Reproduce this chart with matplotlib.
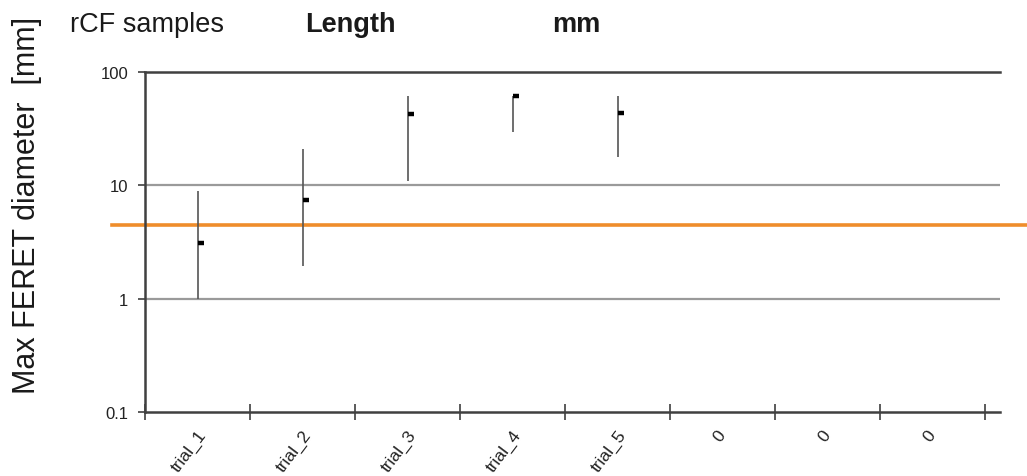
"""rCF samples: max FERET diameter per trial (high-low-close style, log axis)."""
import matplotlib; matplotlib.use("Agg")
import matplotlib.pyplot as plt
import matplotlib.transforms as mtrans
from matplotlib.markers import TICKRIGHT
from matplotlib.ticker import FixedLocator, NullFormatter, FixedFormatter
import numpy as np

plt.rcParams["font.family"] = ["Liberation Sans", "DejaVu Sans"]

# data
categories = ["trial_1", "trial_2", "trial_3", "trial_4", "trial_5", "0", "0", "0"]
close_vals = [3.12, 7.48, 42.9, 61.5, 43.8]
high_vals = [9.0, 21.1, 62.0, 62.0, 61.0]
low_vals = [1.0, 1.95, 11.0, 29.8, 17.9]
threshold = 4.45
y_ticks = [0.1, 1, 10, 100]
y_ticklabels = ["0.1", "1", "10", "100"]

fig = plt.figure(figsize=(10.27, 4.77), dpi=100)
ax = fig.add_axes([145/1027, 1-413/477, (1000-145)/1027, (413-73)/477])

n = len(categories)
xc = np.arange(n)
ax.set_yscale("log")
ax.set_ylim(0.1, 100)
ax.set_xlim(-0.5, n - 0.5 + 15/105)

# grid at 1 and 10
for g in [1, 10]:
    ax.axhline(g, color="#9a9a9a", lw=1.6, zorder=1)

# high-low lines + close ticks
xs = xc[:len(close_vals)]
ax.vlines(xs, low_vals, high_vals, color="#555555", lw=1.2, zorder=3)
ax.plot(xs, close_vals, ls="none", marker=TICKRIGHT, ms=4, mew=3.2, color="black", zorder=4)

# orange reference line, runs past the axes on both sides
ax.plot([-0.0386, 1.0316], [threshold, threshold], color="#EF8D2B", lw=2.6,
        transform=ax.get_yaxis_transform(), clip_on=False, zorder=2)

for s in ["left", "bottom", "top"]:
    ax.spines[s].set_color("#404040"); ax.spines[s].set_linewidth(1.8)
ax.spines["right"].set_visible(False)

ax.yaxis.set_major_locator(FixedLocator(y_ticks))
ax.yaxis.set_major_formatter(FixedFormatter(y_ticklabels))
ax.yaxis.set_minor_locator(FixedLocator([]))
ax.tick_params(axis="y", which="major", direction="out", length=5, width=1.2, color="#404040",
               labelsize=12, pad=7, labelcolor="#222222")

ax.xaxis.set_major_locator(FixedLocator(np.arange(n + 1) - 0.5))
ax.xaxis.set_major_formatter(NullFormatter())
ax.xaxis.set_minor_locator(FixedLocator([]))
ax.tick_params(axis="x", which="major", direction="inout", length=12, width=1.2, color="#404040")

# rotated category labels, anchored at their right end
xform = ax.get_xaxis_transform()
for i, lab in enumerate(categories):
    dx = 6 if lab.startswith("trial") else 0
    dy = 20 if lab.startswith("trial") else 20
    off = mtrans.ScaledTranslation(dx/100, -dy/100, fig.dpi_scale_trans)
    ax.text(xc[i], 0, lab, transform=xform + off, rotation=53, rotation_mode="anchor",
            ha="right", va="center", fontsize=12.5, color="#222222", clip_on=False)

# header texts and axis title
fig.text(70/1027, 1-32/477, "rCF samples", fontsize=19.5, color="#1a1a1a", va="baseline")
fig.text(305/1027, 1-32/477, "Length", fontsize=19.5, fontweight="bold", color="#1a1a1a", va="baseline")
fig.text(552/1027, 1-32/477, "mm", fontsize=19.5, fontweight="bold", color="#1a1a1a", va="baseline")
fig.text(27/1027, 1-205/477, "Max FERET diameter  [mm]", fontsize=22, rotation=90,
         ha="center", va="center", color="#1a1a1a")

fig.savefig("out.png", dpi=100)
